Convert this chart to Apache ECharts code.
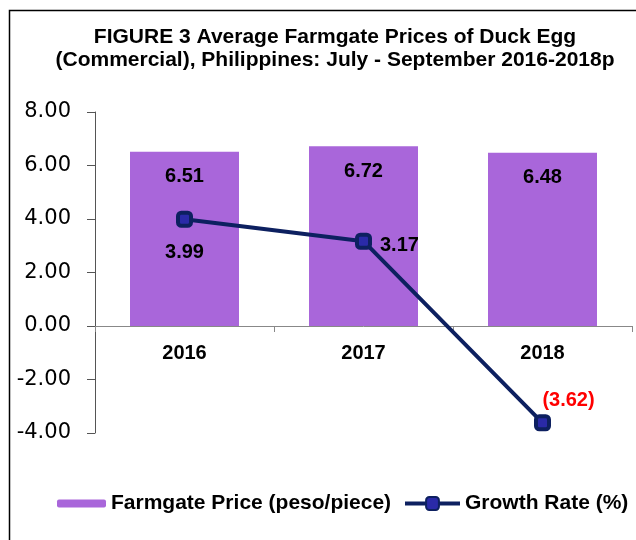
<!DOCTYPE html>
<html><head><meta charset="utf-8">
<script src="https://cdn.jsdelivr.net/npm/echarts@6/dist/echarts.min.js"></script>
<style>html,body{margin:0;padding:0;background:#fff}#c{width:636px;height:540px}</style>
</head><body><div id="c"></div>
<script>
var categories = ['2016', '2017', '2018'];
var farmgatePrice = [6.51, 6.72, 6.48];
var growthRate = [3.99, 3.17, -3.62];
var titleText = 'FIGURE 3 Average Farmgate Prices of Duck Egg\n(Commercial), Philippines: July - September 2016-2018p';

var FONT = '"Liberation Sans", Arial, sans-serif';
var AXFONT = '"DejaVu Sans", sans-serif';
var chart = echarts.init(document.getElementById('c'));
var lineLabels = [
  {position: 'bottom', distance: 15},
  {position: 'right', distance: 8, offset: [0, 4]},
  {position: 'top', distance: 4, offset: [26, 0], color: '#ff0000'}
];
chart.setOption({
  animation: false,
  textStyle: {fontFamily: FONT},
  graphic: [{type: 'rect', shape: {x: 9.5, y: 10.5, width: 700, height: 600}, style: {fill: 'none', stroke: '#000', lineWidth: 1.5}}],
  title: {text: titleText, left: 330, top: 21, textAlign: 'center',
    textStyle: {fontFamily: FONT, fontSize: 21, fontWeight: 'bold', color: '#000', lineHeight: 23}},
  legend: [
    {data: ['Farmgate Price (peso/piece)'], left: 57, top: 493, padding: 0, itemWidth: 49, itemHeight: 8,
      textStyle: {fontFamily: FONT, fontSize: 21, fontWeight: 'bold', color: '#000'}},
    {data: ['Growth Rate (%)'], left: 403, top: 493, padding: 0, itemWidth: 55, itemHeight: 16,
      lineStyle: {width: 4, color: '#0d2060'},
      textStyle: {fontFamily: FONT, fontSize: 21, fontWeight: 'bold', color: '#000'}}
  ],
  grid: {left: 95, right: 4, top: 112, bottom: 107},
  xAxis: {type: 'category', data: categories, offset: -107,
    axisLine: {onZero: false, lineStyle: {color: '#888', width: 1}},
    axisTick: {show: true, length: 6, lineStyle: {color: '#888'}},
    axisLabel: {fontFamily: FONT, fontSize: 20, fontWeight: 'bold', color: '#000', margin: 17}},
  yAxis: {type: 'value', min: -4, max: 8, interval: 2,
    axisLine: {show: true, lineStyle: {color: '#555', width: 1}},
    axisTick: {show: true, length: 8, lineStyle: {color: '#555'}},
    splitLine: {show: false},
    axisLabel: {fontFamily: AXFONT, fontSize: 21, color: '#000', margin: 24,
      formatter: function (v) { return v.toFixed(2); }}},
  series: [
    {name: 'Farmgate Price (peso/piece)', type: 'bar', data: farmgatePrice, barWidth: 109,
      itemStyle: {color: '#a966da'},
      label: {show: true, position: 'insideTop', distance: 15, fontFamily: FONT, fontSize: 20, fontWeight: 'bold', color: '#000',
        formatter: function (p) { return p.value.toFixed(2); }}},
    {name: 'Growth Rate (%)', type: 'line', data: growthRate.map(function (v, i) {
        return {value: v, label: lineLabels[i]};
      }),
      symbol: 'roundRect', symbolSize: 13,
      lineStyle: {color: '#0d2060', width: 4},
      itemStyle: {color: '#2a2aa8', borderColor: '#0d2060', borderWidth: 4},
      label: {show: true, fontFamily: FONT, fontSize: 20, fontWeight: 'bold', color: '#000',
        formatter: function (p) { return p.value < 0 ? '(' + Math.abs(p.value).toFixed(2) + ')' : p.value.toFixed(2); }}}
  ]
});
</script></body></html>
